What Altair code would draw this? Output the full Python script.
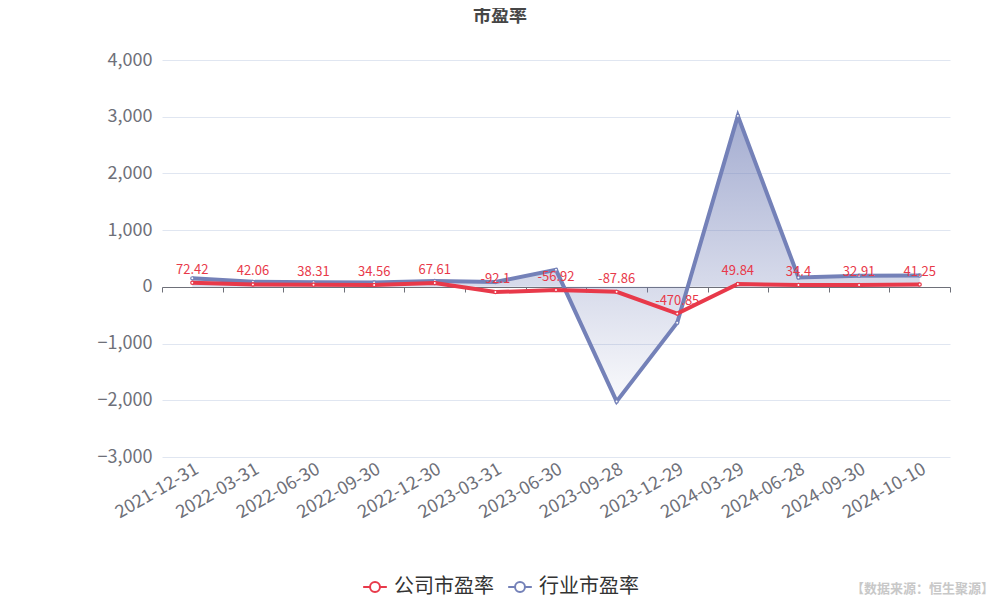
import altair as alt
import pandas as pd

dates = ["2021-12-31", "2022-03-31", "2022-06-30", "2022-09-30", "2022-12-30",
         "2023-03-31", "2023-06-30", "2023-09-28", "2023-12-29", "2024-03-29",
         "2024-06-28", "2024-09-30", "2024-10-10"]
company = [72.42, 42.06, 38.31, 34.56, 67.61, -92.1, -56.92, -87.86, -470.85,
           49.84, 34.4, 32.91, 41.25]
industry = [150, 88, 80, 78, 105, 85, 300, -2020, -632, 3015, 165, 198, 200]
company_labels = ["72.42", "42.06", "38.31", "34.56", "67.61", "-92.1", "-56.92",
                  "-87.86", "-470.85", "49.84", "34.4", "32.91", "41.25"]

S_COMP = "公司市盈率"
S_IND = "行业市盈率"
RED = "#e8394a"
BLUE = "#7481b8"
FONT = "Noto Sans CJK SC"

rows = []
for i, d in enumerate(dates):
    rows.append({"date": d, "series": S_COMP, "value": company[i], "label": company_labels[i]})
    rows.append({"date": d, "series": S_IND, "value": industry[i], "label": ""})
df = pd.DataFrame(rows)

W, H = 788, 397

x_enc = alt.X("date:N", sort=dates, title=None,
              scale=alt.Scale(type="band", paddingInner=0, paddingOuter=0),
              axis=alt.Axis(labelAngle=-30, labelAlign="right", labelBaseline="top",
                            labelFontSize=18, labelColor="#6e7079", labelFont=FONT,
                            offset=-170, labelPadding=168, tickBand="extent",
                            tickSize=5, tickColor="#6e7079", domainColor="#6e7079",
                            labelOverlap=False, grid=False))
y_scale = alt.Scale(domain=[-3000, 4000], nice=False)
y_axis = alt.Axis(values=[-3000, -2000, -1000, 0, 1000, 2000, 3000, 4000], format=",.0f",
                  labelFontSize=18, labelColor="#6e7079", labelFont=FONT,
                  ticks=False, domain=False, gridColor="#e0e6f1", labelPadding=10)
y_enc = alt.Y("value:Q", scale=y_scale, axis=y_axis, title=None)
color_scale = alt.Scale(domain=[S_COMP, S_IND], range=[RED, BLUE])

base = alt.Chart(df)
ind = base.transform_filter(alt.datum.series == S_IND)
comp = base.transform_filter(alt.datum.series == S_COMP)

area = ind.mark_area(
    color=alt.Gradient(gradient="linear",
                       stops=[alt.GradientStop(color="rgba(116,129,184,0.65)", offset=0),
                              alt.GradientStop(color="rgba(116,129,184,0.04)", offset=1)],
                       x1=0, x2=0, y1=0, y2=1)
).encode(x=x_enc, y=y_enc)

legend = alt.Legend(title=None, orient="none", legendX=200, legendY=514,
                    direction="horizontal",
                    symbolType="M-1,0L-0.42,0M0.42,0L1,0M-0.42,0A0.42,0.42 0 1,0 0.42,0A0.42,0.42 0 1,0 -0.42,0",
                    symbolSize=560, symbolStrokeWidth=2, symbolFillColor="white",
                    labelFontSize=20, labelColor="#333333", labelFont=FONT,
                    columnPadding=10, labelOffset=6)

line_ind = ind.mark_line(strokeWidth=4).encode(
    x=x_enc, y=y_enc,
    color=alt.Color("series:N", scale=color_scale, legend=legend))
pts_ind = ind.mark_point(filled=True, fill="white", size=10, strokeWidth=1.2, opacity=1).encode(
    x=x_enc, y=y_enc, stroke=alt.value(BLUE))

line_comp = comp.mark_line(strokeWidth=4).encode(
    x=x_enc, y=y_enc,
    color=alt.Color("series:N", scale=color_scale, legend=legend))
pts_comp = comp.mark_point(filled=True, fill="white", size=10, strokeWidth=1.2, opacity=1).encode(
    x=x_enc, y=y_enc, stroke=alt.value(RED))

labels = comp.mark_text(baseline="bottom", dy=-6, fontSize=13, color=RED, font=FONT).encode(
    x=x_enc, y=y_enc, text="label:N")

ann = pd.DataFrame({"t": ["市盈率"], "s": ["【数据来源：恒生聚源】"]})
title = alt.Chart(ann).mark_text(fontSize=18, fontWeight="bold", color="#464646",
                                 font=FONT, align="center", baseline="middle").encode(
    x=alt.value(500 - 162), y=alt.value(17 - 60), text="t:N")
source = alt.Chart(ann).mark_text(fontSize=13, fontWeight="bold", color="#c8c8c8",
                                  font=FONT, align="right", baseline="middle").encode(
    x=alt.value(994 - 162), y=alt.value(589 - 60), text="s:N")

chart = alt.layer(area, line_ind, pts_ind, line_comp, pts_comp, labels, title, source).properties(
    width=W, height=H,
    background="white",
    autosize=alt.AutoSizeParams(type="none"),
    padding={"left": 154, "top": 52, "right": 42, "bottom": 142},
).configure_view(strokeWidth=0, stroke="transparent")

chart.save("out.html", embed_options={"renderer": "svg", "actions": False})
